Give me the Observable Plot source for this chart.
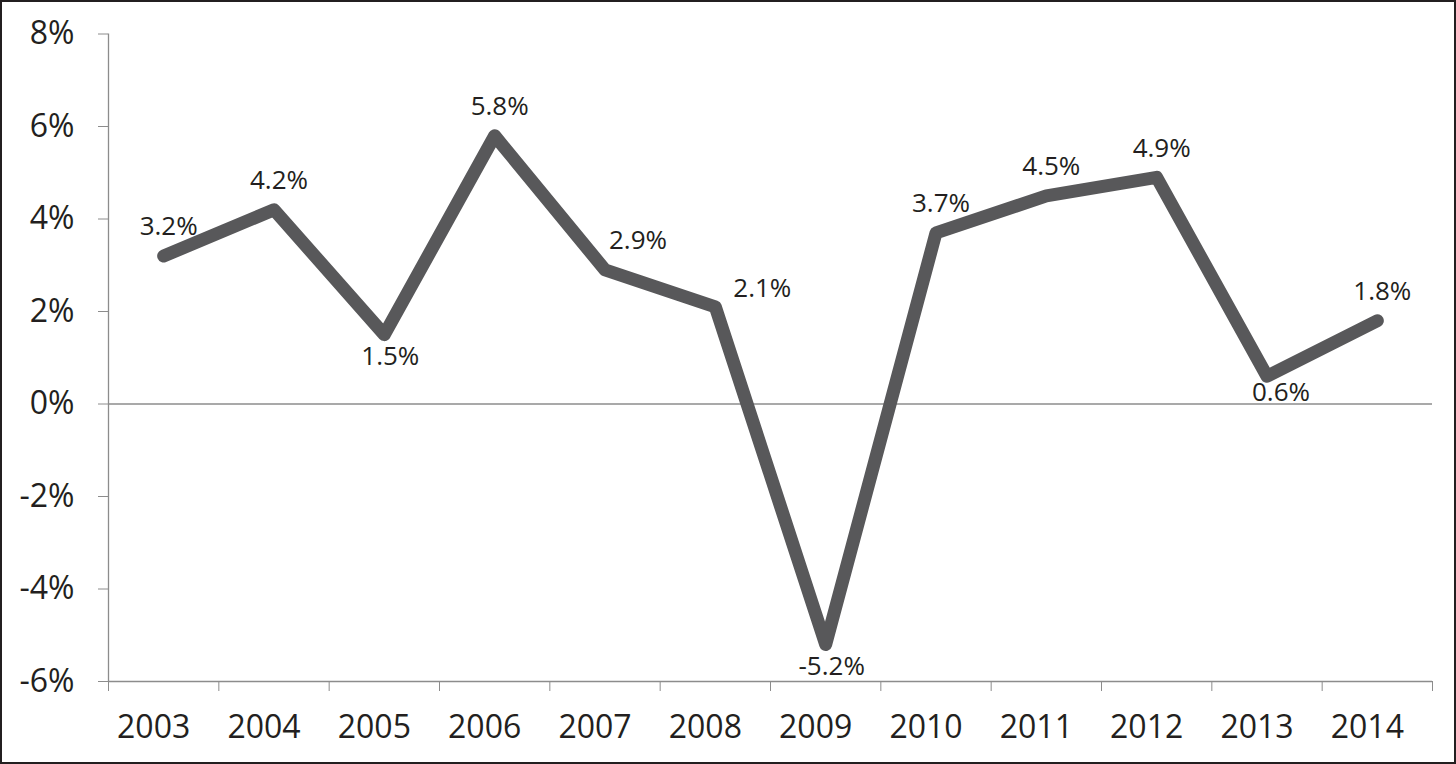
<!DOCTYPE html>
<html><head><meta charset="utf-8">
<script src="https://cdn.jsdelivr.net/npm/d3@7"></script>
<script src="https://cdn.jsdelivr.net/npm/@observablehq/plot@0.6"></script>
<style>
html,body{margin:0;padding:0;background:#fff;}
#frame{width:1456px;height:764px;box-sizing:border-box;border:2px solid #231f20;overflow:hidden;background:#fff;}
#frame svg{display:block;}
</style></head><body><div id="frame"></div>
<script>
const years = [2003, 2004, 2005, 2006, 2007, 2008, 2009, 2010, 2011, 2012, 2013, 2014];
const growth = [3.2, 4.2, 1.5, 5.8, 2.9, 2.1, -5.2, 3.7, 4.5, 4.9, 0.6, 1.8];
const labelSide = ["above", "above", "below", "above", "upright", "right", "below", "above", "above", "above", "belowright", "above"];
const yTicks = [-6, -4, -2, 0, 2, 4, 6, 8];

const data = years.map((year, i) => ({year, value: growth[i], side: labelSide[i]}));
const boundaries = years.map(y => y - 0.5).concat([years[years.length - 1] + 0.5]);

const sideOffsets = {
  above: {dx: 5, dy: -29},
  below: {dx: 6, dy: 22},
  upright: {dx: 33, dy: -29},
  right: {dx: 47, dy: -18},
  belowright: {dx: 14, dy: 16}
};

const labelMarks = Object.entries(sideOffsets).map(([side, o]) =>
  Plot.text(data.filter(d => d.side === side), {
    x: "year", y: "value",
    text: d => d.value.toFixed(1) + "%",
    dx: o.dx, dy: o.dy,
    fontSize: 26, fill: "#231f20"
  })
);

const gray = "#8c8c8c";
const chart = Plot.plot({
  width: 1452, height: 760,
  marginLeft: 106, marginRight: 22, marginTop: 31.5, marginBottom: 81,
  style: {fontFamily: "'Open Sans', sans-serif", color: "#231f20", background: "#fff"},
  x: {domain: [boundaries[0], boundaries[boundaries.length - 1]]},
  y: {domain: [-6, 8]},
  marks: [
    Plot.ruleY([0], {stroke: gray, strokeWidth: 1.3}),
    Plot.ruleX([boundaries[0]], {stroke: gray, strokeWidth: 1.3}),
    Plot.ruleY([-6], {stroke: gray, strokeWidth: 1.3}),
    Plot.axisY({ticks: yTicks, tickFormat: d => `${d}%`, tickSize: 10, tickPadding: 24, fontSize: 32, stroke: gray, fill: "#231f20", label: null}),
    Plot.axisX({ticks: boundaries, tickFormat: () => "", tickSize: 10, stroke: gray, label: null}),
    Plot.axisX({ticks: years, tickFormat: d => String(d), tickSize: 0, tickPadding: 34, dx: -10, fontSize: 32, fill: "#231f20", label: null}),
    Plot.line(data, {x: "year", y: "value", stroke: "#58585a", strokeWidth: 13, strokeLinejoin: "round", strokeLinecap: "round"}),
    ...labelMarks
  ]
});
document.getElementById("frame").appendChild(chart);
</script>
</body></html>
